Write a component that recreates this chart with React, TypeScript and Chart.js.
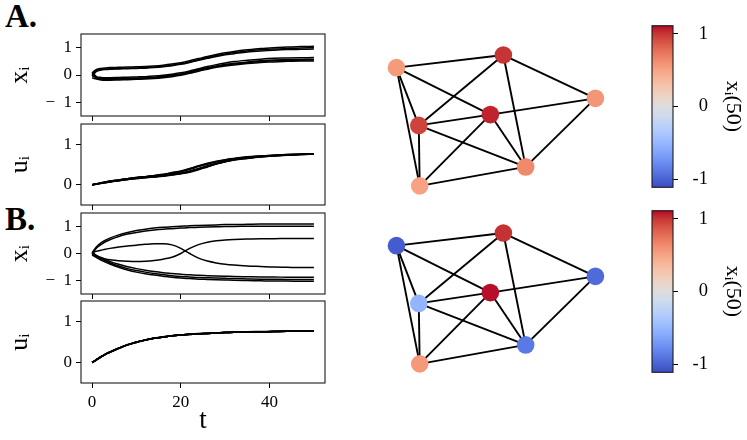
import React, { useEffect, useRef } from 'react';
import { Chart, registerables } from 'chart.js';
Chart.register(...registerables);

const FONT = "'Liberation Serif', 'DejaVu Serif', serif";

// time samples
const T = [0, 1, 2, 3, 4, 6, 8, 10, 12, 14, 16, 18, 20, 22, 24, 26, 28, 30, 32, 35, 38, 41, 44, 47, 50];

// Panel A: x_i(t), nodes 1..7
const A_X1 = [0.05, -0.12, -0.15, -0.16, -0.16, -0.15, -0.14, -0.13, -0.12, -0.1, -0.07, -0.03, 0.02, 0.09, 0.17, 0.24, 0.31, 0.36, 0.4, 0.45, 0.49, 0.52, 0.53, 0.54, 0.55];
const A_X2 = [0.02, 0.16, 0.2, 0.22, 0.23, 0.24, 0.25, 0.26, 0.27, 0.29, 0.32, 0.36, 0.41, 0.48, 0.56, 0.64, 0.71, 0.77, 0.82, 0.88, 0.92, 0.95, 0.97, 0.99, 1.0];
const A_X3 = [-0.02, -0.1, -0.13, -0.14, -0.14, -0.13, -0.12, -0.11, -0.1, -0.08, -0.05, -0.01, 0.04, 0.11, 0.19, 0.27, 0.33, 0.39, 0.43, 0.48, 0.52, 0.55, 0.56, 0.57, 0.58];
const A_X4 = [0.08, 0.2, 0.24, 0.26, 0.27, 0.28, 0.29, 0.3, 0.31, 0.33, 0.36, 0.4, 0.45, 0.52, 0.6, 0.68, 0.75, 0.81, 0.86, 0.92, 0.97, 1.0, 1.02, 1.04, 1.05];
const A_X5 = [-0.05, 0.13, 0.18, 0.2, 0.21, 0.22, 0.23, 0.24, 0.25, 0.27, 0.3, 0.34, 0.39, 0.46, 0.54, 0.61, 0.68, 0.74, 0.78, 0.84, 0.88, 0.91, 0.93, 0.94, 0.95];
const A_X6 = [0.1, -0.06, -0.09, -0.1, -0.1, -0.09, -0.08, -0.07, -0.06, -0.04, -0.01, 0.03, 0.08, 0.15, 0.23, 0.31, 0.38, 0.44, 0.49, 0.54, 0.58, 0.61, 0.62, 0.63, 0.64];
const A_X7 = [-0.1, -0.15, -0.18, -0.19, -0.19, -0.18, -0.17, -0.16, -0.15, -0.13, -0.1, -0.06, -0.01, 0.06, 0.14, 0.21, 0.28, 0.33, 0.37, 0.42, 0.46, 0.48, 0.5, 0.51, 0.51];

// Panel A: u_i(t)
const A_U1 = [0, 0.02, 0.04, 0.06, 0.07, 0.1, 0.13, 0.16, 0.18, 0.2, 0.22, 0.25, 0.28, 0.33, 0.39, 0.46, 0.52, 0.575, 0.62, 0.66, 0.69, 0.715, 0.73, 0.745, 0.755];
const A_U2 = [0, 0.02, 0.04, 0.07, 0.09, 0.12, 0.15, 0.18, 0.2, 0.22, 0.25, 0.29, 0.33, 0.39, 0.46, 0.52, 0.57, 0.61, 0.645, 0.685, 0.71, 0.73, 0.745, 0.755, 0.765];
const A_U3 = [0, 0.02, 0.04, 0.05, 0.07, 0.1, 0.13, 0.16, 0.18, 0.2, 0.22, 0.25, 0.28, 0.32, 0.38, 0.45, 0.515, 0.57, 0.615, 0.655, 0.69, 0.715, 0.73, 0.745, 0.755];
const A_U4 = [0, 0.02, 0.05, 0.07, 0.09, 0.12, 0.15, 0.18, 0.2, 0.23, 0.26, 0.3, 0.34, 0.4, 0.47, 0.53, 0.58, 0.62, 0.65, 0.69, 0.71, 0.73, 0.745, 0.755, 0.765];
const A_U5 = [0, 0.02, 0.04, 0.06, 0.08, 0.12, 0.15, 0.17, 0.2, 0.22, 0.25, 0.28, 0.32, 0.38, 0.45, 0.51, 0.565, 0.605, 0.64, 0.68, 0.705, 0.725, 0.74, 0.75, 0.76];
const A_U6 = [0, 0.02, 0.04, 0.06, 0.08, 0.11, 0.14, 0.17, 0.19, 0.21, 0.23, 0.26, 0.29, 0.34, 0.4, 0.47, 0.53, 0.585, 0.625, 0.665, 0.695, 0.72, 0.735, 0.75, 0.76];
const A_U7 = [0, 0.01, 0.03, 0.05, 0.07, 0.1, 0.13, 0.15, 0.17, 0.19, 0.21, 0.24, 0.27, 0.31, 0.37, 0.44, 0.51, 0.565, 0.61, 0.65, 0.685, 0.71, 0.73, 0.745, 0.755];

// Panel B: x_i(t)
const B_X1 = [-0.05, -0.15, -0.24, -0.32, -0.39, -0.51, -0.61, -0.69, -0.75, -0.8, -0.84, -0.88, -0.91, -0.93, -0.95, -0.96, -0.97, -0.98, -0.99, -1.0, -1.01, -1.02, -1.02, -1.03, -1.03];
const B_X2 = [-0.02, 0.2, 0.33, 0.43, 0.51, 0.63, 0.72, 0.78, 0.83, 0.87, 0.9, 0.92, 0.94, 0.96, 0.97, 0.98, 0.99, 1.0, 1.0, 1.01, 1.01, 1.01, 1.01, 1.01, 1.01];
const B_X3 = [0.02, -0.1, -0.19, -0.27, -0.34, -0.46, -0.56, -0.63, -0.69, -0.74, -0.78, -0.82, -0.85, -0.87, -0.89, -0.9, -0.91, -0.92, -0.93, -0.94, -0.95, -0.95, -0.96, -0.96, -0.96];
const B_X4 = [0.03, 0.25, 0.39, 0.49, 0.57, 0.69, 0.78, 0.85, 0.9, 0.94, 0.97, 0.99, 1.01, 1.03, 1.04, 1.05, 1.06, 1.07, 1.07, 1.08, 1.09, 1.09, 1.09, 1.09, 1.09];
const B_X5 = [0.04, 0.08, 0.12, 0.16, 0.19, 0.24, 0.28, 0.31, 0.34, 0.36, 0.36, 0.32, 0.19, 0.0, -0.17, -0.28, -0.35, -0.4, -0.43, -0.46, -0.48, -0.5, -0.51, -0.52, -0.52];
const B_X6 = [0.05, -0.07, -0.15, -0.22, -0.29, -0.4, -0.49, -0.56, -0.62, -0.67, -0.71, -0.74, -0.77, -0.79, -0.81, -0.82, -0.83, -0.84, -0.85, -0.86, -0.87, -0.87, -0.88, -0.88, -0.88];
const B_X7 = [-0.03, -0.1, -0.16, -0.2, -0.23, -0.27, -0.29, -0.3, -0.29, -0.26, -0.21, -0.14, 0.0, 0.19, 0.33, 0.42, 0.47, 0.5, 0.52, 0.54, 0.55, 0.55, 0.56, 0.56, 0.56];

// Panel B: u_i(t)
const B_U1 = [0, 0.07, 0.14, 0.2, 0.25, 0.35, 0.43, 0.5, 0.55, 0.59, 0.62, 0.65, 0.67, 0.69, 0.7, 0.71, 0.72, 0.73, 0.74, 0.745, 0.75, 0.755, 0.76, 0.76, 0.765];
const B_U2 = [0, 0.07, 0.14, 0.2, 0.26, 0.35, 0.43, 0.5, 0.55, 0.59, 0.62, 0.65, 0.67, 0.69, 0.7, 0.71, 0.72, 0.73, 0.74, 0.745, 0.75, 0.755, 0.76, 0.765, 0.765];
const B_U3 = [0, 0.07, 0.13, 0.2, 0.25, 0.34, 0.43, 0.49, 0.55, 0.59, 0.62, 0.65, 0.67, 0.69, 0.7, 0.71, 0.72, 0.73, 0.74, 0.745, 0.75, 0.755, 0.76, 0.76, 0.765];
const B_U4 = [0, 0.07, 0.14, 0.21, 0.26, 0.35, 0.44, 0.5, 0.55, 0.6, 0.63, 0.65, 0.67, 0.69, 0.705, 0.715, 0.725, 0.735, 0.74, 0.75, 0.755, 0.76, 0.76, 0.765, 0.765];
const B_U5 = [0, 0.07, 0.14, 0.2, 0.25, 0.35, 0.43, 0.5, 0.55, 0.59, 0.62, 0.65, 0.67, 0.685, 0.7, 0.71, 0.72, 0.73, 0.735, 0.745, 0.75, 0.755, 0.76, 0.76, 0.765];
const B_U6 = [0, 0.06, 0.13, 0.2, 0.25, 0.34, 0.43, 0.49, 0.54, 0.59, 0.62, 0.65, 0.67, 0.685, 0.7, 0.71, 0.72, 0.73, 0.735, 0.745, 0.75, 0.755, 0.76, 0.76, 0.765];
const B_U7 = [0, 0.07, 0.14, 0.2, 0.25, 0.35, 0.43, 0.5, 0.55, 0.59, 0.62, 0.65, 0.67, 0.69, 0.7, 0.71, 0.72, 0.73, 0.74, 0.745, 0.75, 0.755, 0.76, 0.76, 0.765];

const A_X = [A_X1, A_X2, A_X3, A_X4, A_X5, A_X6, A_X7];
const A_U = [A_U1, A_U2, A_U3, A_U4, A_U5, A_U6, A_U7];
const B_X = [B_X1, B_X2, B_X3, B_X4, B_X5, B_X6, B_X7];
const B_U = [B_U1, B_U2, B_U3, B_U4, B_U5, B_U6, B_U7];

// Network layout (same for both graphs), node order 1..7
const NODE_X = [-1.01, 0.14, 1.13, 0.0, -0.77, 0.38, -0.76];
const NODE_Y = [0.58, 0.72, 0.24, 0.06, -0.06, -0.52, -0.73];
const EDGES = [[0, 1], [0, 3], [0, 4], [0, 6], [1, 4], [1, 5], [1, 2], [2, 3], [2, 5], [3, 4], [3, 5], [3, 6], [4, 5], [4, 6], [5, 6]];

const X_TICKS = [0, 20, 40];
const XI_TICKS = [-1, 0, 1];
const UI_TICKS = [0, 1];
const CB_TICKS = [-1, 0, 1];
const VMIN = -1.11;
const VMAX = 1.11;

const COOLWARM = [
  [59, 76, 192], [68, 90, 204], [77, 104, 215], [87, 117, 225], [98, 130, 234], [108, 142, 241],
  [119, 154, 247], [130, 165, 251], [141, 176, 254], [152, 185, 255], [163, 194, 255], [174, 201, 253],
  [184, 208, 249], [194, 213, 244], [204, 217, 238], [213, 219, 230], [221, 221, 221], [229, 216, 209],
  [236, 211, 197], [241, 204, 185], [245, 196, 173], [247, 187, 160], [247, 177, 148], [247, 166, 135],
  [244, 154, 123], [241, 141, 111], [236, 127, 99], [229, 112, 88], [222, 96, 77], [213, 80, 66],
  [203, 62, 56], [192, 40, 47], [180, 4, 38],
];

function coolwarm(t: number): string {
  const c = Math.max(0, Math.min(1, t)) * (COOLWARM.length - 1);
  const i = Math.min(COOLWARM.length - 2, Math.floor(c));
  const f = c - i;
  const a = COOLWARM[i], b = COOLWARM[i + 1];
  const m = (k: number) => Math.round(a[k] + (b[k] - a[k]) * f);
  return `rgb(${m(0)},${m(1)},${m(2)})`;
}

const framePlugin = {
  id: 'frame',
  afterDraw(chart: any) {
    const a = chart.chartArea;
    if (!a) return;
    const ctx = chart.ctx;
    ctx.save();
    ctx.strokeStyle = '#1a1a1a';
    ctx.lineWidth = 1.1;
    ctx.strokeRect(a.left, a.top, a.right - a.left, a.bottom - a.top);
    ctx.restore();
  },
};

const noPad = (s: any) => {
  s.paddingTop = 0;
  s.paddingBottom = 0;
  s.paddingLeft = 0;
  s.paddingRight = 0;
};

const minusFmt = (v: number) => (v < 0 ? '\u2212\u2002' + Math.abs(v) : String(v));

function lineConfig(series: number[][], yMin: number, yMax: number, yTicks: number[], yTitle: string, bottom: boolean): any {
  return {
    type: 'line',
    data: {
      datasets: series.map((s) => ({
        data: T.map((t, i) => ({ x: t, y: s[i] })),
        borderColor: '#000',
        borderWidth: 1.5,
        pointRadius: 0,
        fill: false,
        cubicInterpolationMode: 'monotone',
      })),
    },
    options: {
      responsive: false,
      animation: false,
      layout: { padding: { top: 4, right: 5, left: 0, bottom: 0 } },
      plugins: { legend: { display: false }, tooltip: { enabled: false } },
      scales: {
        x: {
          type: 'linear',
          min: -2.5,
          max: 52.5,
          afterBuildTicks: (s: any) => { s.ticks = X_TICKS.map((v) => ({ value: v })); },
          afterFit: (s: any) => { s.height = bottom ? 57 : 6; noPad(s); },
          grid: { display: true, drawOnChartArea: false, drawTicks: true, tickLength: 5, color: '#000', lineWidth: 1 },
          border: { display: false },
          ticks: { display: bottom, font: { size: 17, family: FONT }, color: '#000', padding: 4, maxRotation: 0 },
          title: { display: bottom, text: 't', font: { size: 27, family: FONT }, color: '#000', padding: { top: 0, bottom: 3 } },
        },
        y: {
          min: yMin,
          max: yMax,
          afterBuildTicks: (s: any) => { s.ticks = yTicks.map((v) => ({ value: v })); },
          afterFit: (s: any) => { s.width = 81; noPad(s); },
          grid: { display: true, drawOnChartArea: false, drawTicks: true, tickLength: 5, color: '#000', lineWidth: 1 },
          border: { display: false },
          ticks: { font: { size: 17, family: FONT }, color: '#000', padding: 4, callback: (v: number) => minusFmt(v) },
          title: { display: true, text: yTitle, font: { size: 26, family: FONT }, color: '#000', padding: { top: 5, bottom: 0 } },
        },
      },
    },
    plugins: [framePlugin],
  };
}

function networkConfig(series: number[][]): any {
  const colors = series.map((s) => coolwarm((s[s.length - 1] - VMIN) / (VMAX - VMIN)));
  const nodes = NODE_X.map((x, i) => ({ x, y: NODE_Y[i] }));
  return {
    type: 'scatter',
    data: {
      datasets: [
        {
          data: nodes,
          pointRadius: 8.8,
          pointBackgroundColor: colors,
          pointBorderWidth: 0,
          showLine: false,
          clip: false,
        },
        ...EDGES.map(([a, b]) => ({
          data: [nodes[a], nodes[b]],
          showLine: true,
          borderColor: '#000',
          borderWidth: 1.9,
          pointRadius: 0,
          clip: false,
        })),
      ],
    },
    options: {
      responsive: false,
      animation: false,
      layout: { padding: 0 },
      plugins: { legend: { display: false }, tooltip: { enabled: false } },
      scales: {
        x: { type: 'linear', min: -1.2, max: 1.3, display: false },
        y: { type: 'linear', min: -0.9, max: 0.9, display: false },
      },
    },
  };
}

function colorbarConfig(): any {
  return {
    type: 'bar',
    data: {
      labels: [''],
      datasets: [
        {
          data: [[VMIN, VMAX]],
          borderWidth: 0,
          categoryPercentage: 1,
          barPercentage: 1,
          backgroundColor: (ctx: any) => {
            const chart = ctx.chart;
            const area = chart.chartArea;
            if (!area) return 'transparent';
            const g = chart.ctx.createLinearGradient(0, area.bottom, 0, area.top);
            COOLWARM.forEach((c, i) => g.addColorStop(i / (COOLWARM.length - 1), `rgb(${c[0]},${c[1]},${c[2]})`));
            return g;
          },
        },
      ],
    },
    options: {
      responsive: false,
      animation: false,
      layout: { padding: { left: 32, top: 10.7, bottom: 12.7, right: 39 } },
      plugins: { legend: { display: false }, tooltip: { enabled: false } },
      scales: {
        x: { display: false },
        y: {
          position: 'right',
          min: VMIN,
          max: VMAX,
          afterBuildTicks: (s: any) => { s.ticks = CB_TICKS.map((v) => ({ value: v })); },
          afterFit: (s: any) => { s.width = 35; noPad(s); },
          grid: { display: true, drawOnChartArea: false, drawTicks: true, tickLength: 5, color: '#000', lineWidth: 1 },
          border: { display: false },
          ticks: { font: { size: 18.5, family: FONT }, color: '#000', padding: 8, crossAlign: 'far', callback: (v: number) => String(v) },
          title: { display: true, text: 'x\u1D62(50)', font: { size: 22, family: FONT }, color: '#000', padding: { top: -38.2, bottom: 0 } },
        },
      },
    },
    plugins: [framePlugin],
  };
}

function ChartBox({ left, top, width, height, config }: { left: number; top: number; width: number; height: number; config: any }) {
  const ref = useRef<HTMLCanvasElement | null>(null);
  useEffect(() => {
    if (!ref.current) return;
    const chart = new Chart(ref.current, config);
    return () => chart.destroy();
  }, []);
  return (
    <canvas
      ref={ref}
      width={width}
      height={height}
      style={{ position: 'absolute', left, top, width, height }}
    />
  );
}

export default function App() {
  const label = (text: string, top: number) => (
    <div
      style={{
        position: 'absolute',
        left: 5,
        top,
        fontFamily: FONT,
        fontWeight: 'bold',
        fontSize: 33,
        lineHeight: '33px',
        color: '#000',
      }}
    >
      {text}
    </div>
  );
  return (
    <div style={{ position: 'absolute', left: 0, top: 0, width: 747, height: 440, background: '#fff', overflow: 'hidden' }}>
      {label('A.', 0)}
      {label('B.', 203)}
      <ChartBox left={0} top={30} width={330} height={92} config={lineConfig(A_X, -1.5, 1.5, XI_TICKS, 'x\u1D62', false)} />
      <ChartBox left={0} top={120} width={330} height={91} config={lineConfig(A_U, -0.5, 1.5, UI_TICKS, 'u\u1D62', false)} />
      <ChartBox left={0} top={209} width={330} height={91} config={lineConfig(B_X, -1.5, 1.5, XI_TICKS, 'x\u1D62', false)} />
      <ChartBox left={0} top={297} width={330} height={143} config={lineConfig(B_U, -0.5, 1.5, UI_TICKS, 'u\u1D62', true)} />
      <ChartBox left={370} top={30} width={250} height={180} config={networkConfig(A_X)} />
      <ChartBox left={370} top={208} width={250} height={180} config={networkConfig(B_X)} />
      <ChartBox left={620} top={15} width={127} height={185} config={colorbarConfig()} />
      <ChartBox left={620} top={200} width={127} height={185} config={colorbarConfig()} />
    </div>
  );
}
